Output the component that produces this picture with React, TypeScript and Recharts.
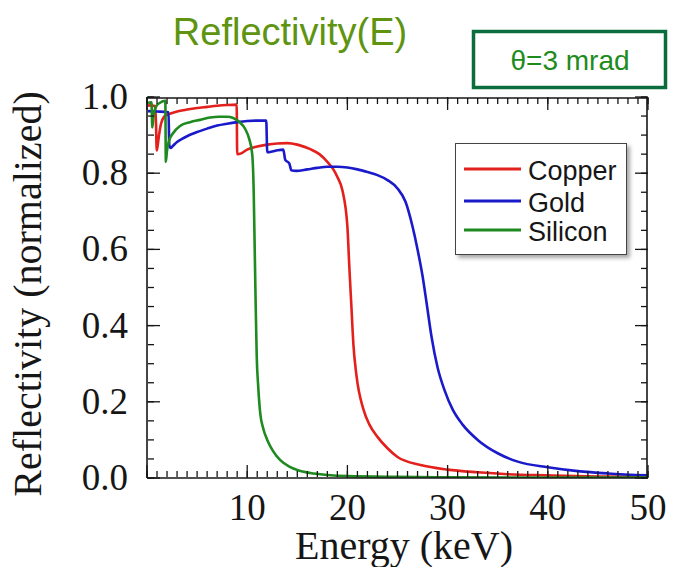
import React from 'react';
import { LineChart, Line, XAxis, YAxis, Legend } from 'recharts';

// ---- data (energy keV, normalized reflectivity) ----
const copperE = [0.1, 0.8, 0.9, 0.97, 1.05, 1.2, 1.4, 1.7, 2.0, 3.0, 4.0, 5.0, 6.0, 7.0, 8.0, 8.95, 9.0, 9.4, 10, 11, 12, 13, 14, 15, 16.3, 17.2, 18.0, 18.6, 19.0, 19.5, 20.0, 20.2, 20.4, 20.6, 20.9, 21.6, 22.2, 23.0, 24.0, 25.0, 27.3, 30, 33, 36, 40, 45, 50];
const copperR = [0.978, 0.976, 0.93, 0.86, 0.87, 0.9, 0.93, 0.948, 0.953, 0.962, 0.967, 0.971, 0.974, 0.977, 0.979, 0.98, 0.85, 0.852, 0.862, 0.87, 0.875, 0.878, 0.879, 0.875, 0.863, 0.85, 0.83, 0.81, 0.79, 0.755, 0.66, 0.55, 0.45, 0.35, 0.27, 0.18, 0.14, 0.108, 0.078, 0.055, 0.034, 0.022, 0.015, 0.01, 0.007, 0.004, 0.003];

const goldE = [0.1, 1.0, 2.15, 2.22, 2.35, 2.6, 3.0, 3.5, 4, 5, 6, 7, 8, 9, 10, 11, 11.9, 12.0, 12.5, 13.0, 13.6, 13.8, 14.2, 14.4, 14.9, 16, 17, 18, 19, 20, 21, 22, 23, 24, 25, 25.8, 26.5, 27.0, 27.5, 27.9, 28.4, 29.0, 29.7, 30.5, 31.5, 33, 35, 37, 40, 43, 46, 50];
const goldR = [0.963, 0.962, 0.96, 0.875, 0.866, 0.872, 0.882, 0.89, 0.897, 0.908, 0.917, 0.925, 0.93, 0.934, 0.937, 0.938, 0.938, 0.855, 0.857, 0.86, 0.862, 0.835, 0.826, 0.808, 0.806, 0.81, 0.814, 0.817, 0.817, 0.815, 0.81, 0.803, 0.795, 0.782, 0.76, 0.725, 0.66, 0.6, 0.53, 0.46, 0.37, 0.29, 0.23, 0.18, 0.14, 0.1, 0.065, 0.043, 0.028, 0.018, 0.012, 0.007];

const siliconE = [0.1, 0.45, 0.53, 0.65, 0.9, 1.3, 1.83, 1.88, 2.0, 2.2, 2.6, 3.3, 4.3, 5.3, 6.3, 7.2, 8.0, 8.6, 9.2, 9.8, 10.2, 10.5, 10.65, 10.75, 10.85, 10.95, 11.1, 11.3, 11.6, 12.0, 12.6, 13.3, 14.2, 15, 16.3, 18, 20, 25, 30, 40, 50];
const siliconR = [0.985, 0.986, 0.92, 0.95, 0.975, 0.985, 0.99, 0.83, 0.86, 0.885, 0.905, 0.924, 0.934, 0.94, 0.946, 0.948, 0.948, 0.945, 0.935, 0.916, 0.89, 0.85, 0.75, 0.6, 0.45, 0.32, 0.24, 0.17, 0.13, 0.1, 0.07, 0.047, 0.03, 0.021, 0.013, 0.008, 0.005, 0.003, 0.002, 0.001, 0.001];

const xLabelTicks = [10, 20, 30, 40, 50];
const xMajorTicks = [0, 10, 20, 30, 40, 50];
const xMinorTicks = Array.from({ length: 51 }, (_, i) => i);
const yLabelTicks = [0, 0.2, 0.4, 0.6, 0.8, 1.0];
const yMinorTicks = Array.from({ length: 21 }, (_, i) => Math.round(i * 5) / 100);

const zip = (es: number[], rs: number[]) => es.map((e, i) => ({ e, r: rs[i] }));
const copper = zip(copperE, copperR);
const gold = zip(goldE, goldR);
const silicon = zip(siliconE, siliconR);

const serif = "'Liberation Serif','Times New Roman',Times,serif";
const sans = "'Liberation Sans',Arial,Helvetica,sans-serif";
const ink = '#161616';
const frame = { stroke: ink, strokeWidth: 1.6 };
const tl = { stroke: ink, strokeWidth: 1.3 };

const XTick = (p: any) => (
  <text x={p.x} y={p.y + 42} textAnchor="middle" fontFamily={serif} fontSize={37} fill={ink}>
    {p.payload.value}
  </text>
);
const YTick = (p: any) => (
  <text x={p.x - 19} y={p.y + 12} textAnchor="end" fontFamily={serif} fontSize={37} fill={ink}>
    {Number(p.payload.value).toFixed(1)}
  </text>
);
const NoLabel = () => <g />;

const rowY = [25, 57, 86];
const renderLegend = (props: any) => {
  const items = props.payload || [];
  return (
    <div style={{ width: 172, height: 112, boxSizing: 'border-box', border: '1.5px solid #444', background: '#fff', boxShadow: '3px 3px 4px rgba(0,0,0,0.35)' }}>
      <svg width={169} height={109} style={{ display: 'block' }}>
        {items.map((it: any, i: number) => (
          <g key={i}>
            <line x1={8} x2={65} y1={rowY[i]} y2={rowY[i]} stroke={it.color} strokeWidth={3} />
            <text x={72} y={rowY[i] + 11} fontFamily={sans} fontSize={27} fill={ink}>{it.value}</text>
          </g>
        ))}
      </svg>
    </div>
  );
};

const common = { type: 'number' as const, allowDataOverflow: true, interval: 0 as const };

export default function App() {
  return (
    <div style={{ position: 'absolute', left: 0, top: 0, width: 685, height: 567, background: '#fff', overflow: 'hidden' }}>
      <LineChart width={685} height={567} margin={{ top: 97, right: 37, bottom: 88, left: 146 }}>
        {/* bottom */}
        <XAxis xAxisId="x" {...common} dataKey="e" domain={[0, 50]} ticks={xLabelTicks} height={1} tickSize={0} tickMargin={0} tickLine={false} axisLine={frame} tick={XTick} />
        <XAxis xAxisId="xbMin" {...common} dataKey="e" domain={[0, 50]} ticks={xMinorTicks} height={1} mirror tickSize={6} tickLine={tl} axisLine={false} tick={NoLabel} />
        <XAxis xAxisId="xbMaj" {...common} dataKey="e" domain={[0, 50]} ticks={xMajorTicks} height={1} mirror tickSize={13} tickLine={tl} axisLine={false} tick={NoLabel} />
        {/* top */}
        <XAxis xAxisId="xtMin" orientation="top" {...common} dataKey="e" domain={[0, 50]} ticks={xMinorTicks} height={1} mirror tickSize={6} tickLine={tl} axisLine={frame} tick={NoLabel} />
        <XAxis xAxisId="xtMaj" orientation="top" {...common} dataKey="e" domain={[0, 50]} ticks={xMajorTicks} height={1} mirror tickSize={13} tickLine={tl} axisLine={false} tick={NoLabel} />
        {/* left */}
        <YAxis yAxisId="y" {...common} domain={[0, 1]} ticks={yLabelTicks} width={1} tickSize={0} tickMargin={0} tickLine={false} axisLine={frame} tick={YTick} />
        <YAxis yAxisId="ylMin" {...common} domain={[0, 1]} ticks={yMinorTicks} width={1} mirror tickSize={6} tickLine={tl} axisLine={false} tick={NoLabel} />
        <YAxis yAxisId="ylMaj" {...common} domain={[0, 1]} ticks={yLabelTicks} width={1} mirror tickSize={13} tickLine={tl} axisLine={false} tick={NoLabel} />
        {/* right */}
        <YAxis yAxisId="yrMin" orientation="right" {...common} domain={[0, 1]} ticks={yMinorTicks} width={1} mirror tickSize={6} tickLine={tl} axisLine={frame} tick={NoLabel} />
        <YAxis yAxisId="yrMaj" orientation="right" {...common} domain={[0, 1]} ticks={yLabelTicks} width={1} mirror tickSize={13} tickLine={tl} axisLine={false} tick={NoLabel} />

        <Line xAxisId="x" yAxisId="y" data={copper} dataKey="r" name="Copper" type="monotone" stroke="#e3201c" strokeWidth={2.6} dot={false} activeDot={false} isAnimationActive={false} />
        <Line xAxisId="x" yAxisId="y" data={gold} dataKey="r" name="Gold" type="monotone" stroke="#1a1acb" strokeWidth={2.6} dot={false} activeDot={false} isAnimationActive={false} />
        <Line xAxisId="x" yAxisId="y" data={silicon} dataKey="r" name="Silicon" type="monotone" stroke="#1f8a1f" strokeWidth={2.6} dot={false} activeDot={false} isAnimationActive={false} />

        <Legend layout="vertical" align="center" verticalAlign="middle" wrapperStyle={{ left: 455, top: 143, width: 172, height: 112 }} content={renderLegend} />
      </LineChart>
      <svg width={685} height={567} style={{ position: 'absolute', left: 0, top: 0, pointerEvents: 'none' }}>
        <text x={290} y={45} textAnchor="middle" fontFamily={sans} fontSize={38} fill="#5e9410">Reflectivity(E)</text>
        <rect x={473.5} y={31.5} width={192} height={56} fill="none" stroke="#0b6c3e" strokeWidth={3.5} />
        <text x={570} y={70} textAnchor="middle" fontFamily={sans} fontSize={28} fill="#1d8c1d">θ=3 mrad</text>
        <text x={404} y={559} textAnchor="middle" fontFamily={serif} fontSize={40} fill={ink}>Energy (keV)</text>
        <text transform="translate(41,294) rotate(-90)" textAnchor="middle" fontFamily={serif} fontSize={40} fill={ink}>Reflectivity (normalized)</text>
      </svg>
    </div>
  );
}
